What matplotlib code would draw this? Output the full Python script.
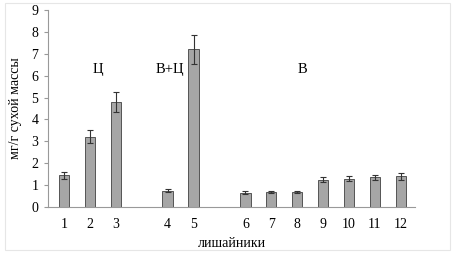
import matplotlib
matplotlib.use("Agg")
import matplotlib.pyplot as plt
from matplotlib.patches import Rectangle

labels = ["1", "2", "3", "", "4", "5", "", "6", "7", "8", "9", "10", "11", "12"]
values = [1.45, 3.22, 4.8, None, 0.75, 7.2, None, 0.65, 0.68, 0.68, 1.25, 1.3, 1.35, 1.4]
errors = [0.15, 0.28, 0.45, None, 0.05, 0.68, None, 0.06, 0.06, 0.06, 0.12, 0.1, 0.12, 0.15]
groups = [("Ц", 1.3), ("В+Ц", 4.1), ("В", 9.2)]
group_y = 6.3

plt.rcParams['font.family'] = ['Liberation Serif', 'DejaVu Serif']
fig = plt.figure(figsize=(4.63, 2.61), dpi=100)
fig.patches.append(Rectangle((5/463, 1-250/261), 445/463, 247/261, transform=fig.transFigure,
                             fill=False, edgecolor='#e6e6e6', linewidth=0.8))
ax = fig.add_axes([48/463, 1-207/261, (415-48)/463, (207-10)/261])

xs = [i for i, v in enumerate(values) if v is not None]
vs = [v for v in values if v is not None]
es = [e for e in errors if e is not None]
ax.bar(xs, vs, width=0.4, color='#a6a6a6', edgecolor='#555555', linewidth=0.7,
       yerr=es, error_kw=dict(ecolor='#333333', elinewidth=0.8, capsize=2.5, capthick=0.8))

ax.set_xlim(-0.62, 13.55)
ax.set_ylim(0, 9)
ax.set_yticks(range(0, 10))
ax.set_xticks(range(len(labels)))
ax.set_xticklabels(labels)
ax.tick_params(axis='x', length=0, labelsize=10, pad=8)
ax.tick_params(axis='y', length=3, direction='out', labelsize=10, color='#999999', pad=4)
for s in ['top', 'right']:
    ax.spines[s].set_visible(False)
ax.spines['left'].set_color('#999999')
ax.spines['bottom'].set_color('#999999')
ax.spines['left'].set_linewidth(0.8)
ax.spines['bottom'].set_linewidth(0.8)

for txt, x in groups:
    ax.text(x, group_y, txt, ha='center', va='center', fontsize=10.5)

ax.set_ylabel("мг/г сухой массы", fontsize=10, labelpad=7)
ax.set_xlabel("лишайники", fontsize=10, labelpad=4)

fig.savefig("out.png", dpi=100)
